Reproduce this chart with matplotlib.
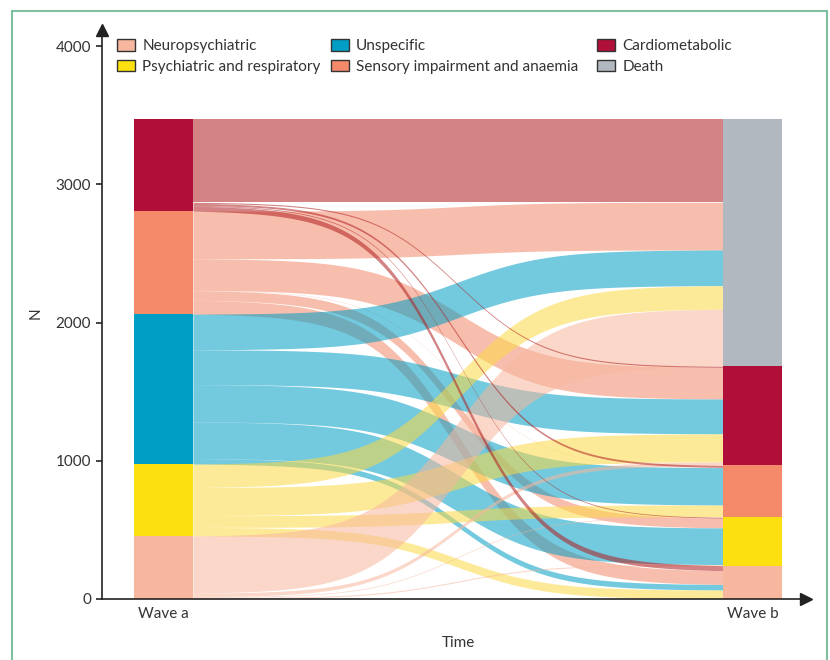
import numpy as np
import matplotlib.pyplot as plt
from matplotlib.lines import Line2D
from matplotlib.patches import Patch

plt.rcParams['font.family'] = ['Lato', 'DejaVu Sans']

# categories of each column, bottom to top
wave_a = ["Neuropsychiatric", "Psychiatric and respiratory", "Unspecific",
          "Sensory impairment and anaemia", "Cardiometabolic"]
wave_b = ["Neuropsychiatric", "Psychiatric and respiratory",
          "Sensory impairment and anaemia", "Cardiometabolic", "Death"]

# transitions from wave a (rows, order of wave_a) to wave b (order of wave_b)
neuro_to = [3, 8, 5, 26, 414]
psych_to = [62, 0, 85, 203, 170]
unspec_to = [40, 265, 270, 252, 258]
sensory_to = [100, 70, 2, 228, 345]
cardio_to = [36, 6, 14, 8, 602]

legend_cats = ["Neuropsychiatric", "Psychiatric and respiratory", "Unspecific",
               "Sensory impairment and anaemia", "Cardiometabolic", "Death"]
colors = {
    "Neuropsychiatric": "#f7b79e",
    "Psychiatric and respiratory": "#fde00f",
    "Unspecific": "#009dc4",
    "Sensory impairment and anaemia": "#f48a6a",
    "Cardiometabolic": "#b00f3a",
    "Death": "#b1b8bf",
}
# flows are drawn half transparent, a bit different from the blocks
flow_colors = {
    "Neuropsychiatric": "#f7b79e",
    "Psychiatric and respiratory": "#fdd944",
    "Unspecific": "#009dc4",
    "Sensory impairment and anaemia": "#f48a6a",
    "Cardiometabolic": "#af1e1e",
}
xtick_labels = ["Wave a", "Wave b"]

flows = np.array([neuro_to, psych_to, unspec_to, sensory_to, cardio_to])
tot_a = flows.sum(axis=1)
tot_b = flows.sum(axis=0)
base_a = np.concatenate([[0], np.cumsum(tot_a)[:-1]])
base_b = np.concatenate([[0], np.cumsum(tot_b)[:-1]])
# where each flow sits inside its stratum
start_a = base_a[:, None] + np.cumsum(flows, axis=1) - flows
start_b = base_b[None, :] + np.cumsum(flows, axis=0) - flows

fig = plt.figure(figsize=(8.3, 6.6), dpi=100)
ax = fig.add_axes([102/830, 61/660, 698/830, 564/660])

w = 0.1
x = np.linspace(1 + w/2, 2 - w/2, 300)
t = (x - x[0]) / (x[-1] - x[0])
k = 12.0
sig = 1 / (1 + np.exp(-k * (t - 0.5)))
s = (sig - sig[0]) / (sig[-1] - sig[0])

# draw order of the sources
for i in [3, 2, 1, 0, 4]:
    for j in range(len(wave_b)):
        if flows[i, j] == 0:
            continue
        lo = start_a[i, j] + (start_b[i, j] - start_a[i, j]) * s
        ax.fill_between(x, lo, lo + flows[i, j], color=flow_colors[wave_a[i]],
                        alpha=0.55, lw=0)

ax.bar(1, tot_a, bottom=base_a, width=w, color=[colors[c] for c in wave_a])
ax.bar(2, tot_b, bottom=base_b, width=w, color=[colors[c] for c in wave_b])

ax.set_xlim(0.8956, 2.0806)
ax.set_ylim(0, 4080)
for side in ["top", "right"]:
    ax.spines[side].set_visible(False)
for side in ["left", "bottom"]:
    ax.spines[side].set_color("#222222")
    ax.spines[side].set_linewidth(1.2)
ax.plot(1.008, 0, ">", color="#222222", ms=9, transform=ax.transAxes, clip_on=False)
ax.plot(0, 1.009, "^", color="#222222", ms=9, transform=ax.transAxes, clip_on=False)

ax.set_yticks([0, 1000, 2000, 3000, 4000])
ax.tick_params(axis="y", length=4.5, width=1.2, color="#222222", pad=3.5,
               labelsize=11, labelcolor="#333333")
ax.set_xticks([1, 2])
ax.set_xticklabels(xtick_labels)
ax.tick_params(axis="x", length=0, pad=6, labelsize=11, labelcolor="#333333")

fig.text(36/830, 1 - 313/660, "N", rotation=90, ha="center", va="center",
         fontsize=11, color="#333333")
fig.text(458/830, 1 - 643/660, "Time", ha="center", va="center",
         fontsize=11, color="#333333")

# legend in three columns
handles = [Patch(facecolor=colors[c], edgecolor="#333333", lw=1) for c in legend_cats]
col_x = [117, 331, 597]
for n, cx in enumerate(col_x):
    fig.legend(handles[2*n:2*n+2], legend_cats[2*n:2*n+2], loc="upper left",
               bbox_to_anchor=(cx/830, 1 - 39/660), frameon=False,
               borderpad=0, borderaxespad=0, fontsize=11,
               handlelength=1.2, handleheight=0.8, handletextpad=0.45,
               labelspacing=0.42, labelcolor="#333333")

# green frame
fc = "#7dbf9f"
fig.add_artist(Line2D([12/830, 12/830], [0, 1 - 10.5/660], color=fc, lw=1.5))
fig.add_artist(Line2D([12/830, 827/830], [1 - 10.5/660, 1 - 10.5/660], color=fc, lw=1.5))
fig.add_artist(Line2D([827/830, 827/830], [0, 1 - 10.5/660], color=fc, lw=1.5))

fig.savefig("out.png", dpi=100)
